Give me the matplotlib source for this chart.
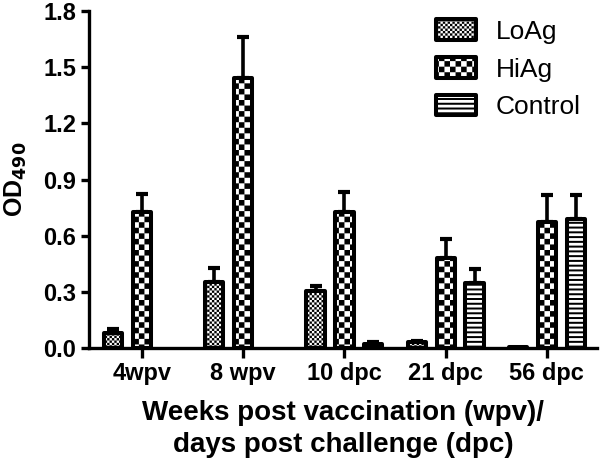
import warnings
warnings.filterwarnings("ignore")
import matplotlib
matplotlib.use("Agg")
import matplotlib.pyplot as plt
import matplotlib.hatch as mhatch
from matplotlib.path import Path
import numpy as np

categories = ["4wpv", "8 wpv", "10 dpc", "21 dpc", "56 dpc"]
series = ["LoAg", "HiAg", "Control"]
loag = [0.08, 0.355, 0.305, 0.03, 0.004]
loag_err = [0.02, 0.07, 0.025, 0.01, 0.0]
hiag = [0.725, 1.44, 0.725, 0.48, 0.675]
hiag_err = [0.10, 0.22, 0.11, 0.10, 0.145]
control = [np.nan, np.nan, 0.02, 0.35, 0.69]
control_err = [0.0, 0.0, 0.01, 0.07, 0.125]
yticks = [0.0, 0.3, 0.6, 0.9, 1.2, 1.5, 1.8]


# custom filled hatch patterns: 'c' -> checkerboard, 'h' -> horizontal stripes
class CheckerHatch(mhatch.HatchPatternBase):
    filled = True

    def __init__(self, hatch, density):
        self.n = hatch.count('c') * 6
        cells = (self.n * self.n) // 2 if self.n else 0
        self.num_vertices = cells * 5

    def set_vertices_and_codes(self, vertices, codes):
        n = self.n
        s = 1.0 / n
        k = 0
        for i in range(n):
            for j in range(n):
                if (i + j) % 2 == 0:
                    x0, y0 = i * s, j * s
                    vertices[k:k + 5] = [(x0, y0), (x0 + s, y0), (x0 + s, y0 + s),
                                         (x0, y0 + s), (x0, y0)]
                    codes[k:k + 5] = [Path.MOVETO, Path.LINETO, Path.LINETO,
                                      Path.LINETO, Path.CLOSEPOLY]
                    k += 5


class StripeHatch(mhatch.HatchPatternBase):
    filled = True

    def __init__(self, hatch, density):
        self.n = hatch.count('h') * 7
        self.num_vertices = self.n * 5

    def set_vertices_and_codes(self, vertices, codes):
        n = self.n
        s = 1.0 / n
        t = s * 0.42
        for i in range(n):
            y0 = i * s
            vertices[i * 5:i * 5 + 5] = [(0, y0), (1, y0), (1, y0 + t), (0, y0 + t), (0, y0)]
            codes[i * 5:i * 5 + 5] = [Path.MOVETO, Path.LINETO, Path.LINETO,
                                      Path.LINETO, Path.CLOSEPOLY]


mhatch._hatch_types.append(CheckerHatch)
mhatch._hatch_types.append(StripeHatch)

plt.rcParams['font.family'] = ['Liberation Sans', 'DejaVu Sans']
plt.rcParams['hatch.linewidth'] = 0.0

fig = plt.figure(figsize=(6.0, 4.61), dpi=100)
ax = fig.add_axes([0.148, 0.245, 0.847, 0.731])

x = np.arange(len(categories))
w = 0.18
off = 0.285
hatches = ['ccccccc', 'ccc', 'hhh']
data = [(loag, loag_err), (hiag, hiag_err), (control, control_err)]
for i, (vals, errs) in enumerate(data):
    vals = np.asarray(vals, dtype=float)
    errs = np.asarray(errs, dtype=float)
    keep = ~np.isnan(vals)
    pos = (x + (i - 1) * off)[keep]
    v = vals[keep]
    e = errs[keep]
    bars = ax.bar(pos, v, width=w, color='white', edgecolor='black',
                  linewidth=2.9, hatch=hatches[i], label=series[i], zorder=2)
    for b in bars:
        b.set_joinstyle('round')
    m = e > 0
    ax.errorbar(pos[m], v[m], yerr=[np.zeros(m.sum()), e[m]],
                fmt='none', ecolor='black', elinewidth=2.6, capsize=4.2,
                capthick=3.0, zorder=1)

ax.set_xlim(-0.525, 4.495)
ax.set_ylim(0, 1.8)
ax.set_yticks(yticks)
ax.set_yticklabels([f"{t:.1f}" for t in yticks])
ax.set_xticks(x)
ax.set_xticklabels(categories)
for s in ['top', 'right']:
    ax.spines[s].set_visible(False)
for s in ['left', 'bottom']:
    ax.spines[s].set_linewidth(2.4)
ax.tick_params(axis='y', width=2.4, length=6, labelsize=17, pad=3)
ax.tick_params(axis='x', width=2.4, length=7, labelsize=17, pad=3)
for lab in ax.get_xticklabels() + ax.get_yticklabels():
    lab.set_fontweight('bold')

ax.set_ylabel("OD$_{\\mathbf{490}}$", fontsize=18, fontweight='bold', labelpad=10)
ax.set_xlabel("Weeks post vaccination (wpv)/\ndays post challenge (dpc)",
              fontsize=20, fontweight='bold', labelpad=11, linespacing=1.3)

leg = ax.legend(loc='upper left', bbox_to_anchor=(0.727, 0.958),
                bbox_transform=fig.transFigure, frameon=False,
                fontsize=19, handlelength=1.5, handleheight=0.83,
                labelspacing=0.5, handletextpad=0.75, borderpad=0, borderaxespad=0)
for p in leg.get_patches():
    p.set_joinstyle('round')

fig.savefig("out.png", dpi=100)
